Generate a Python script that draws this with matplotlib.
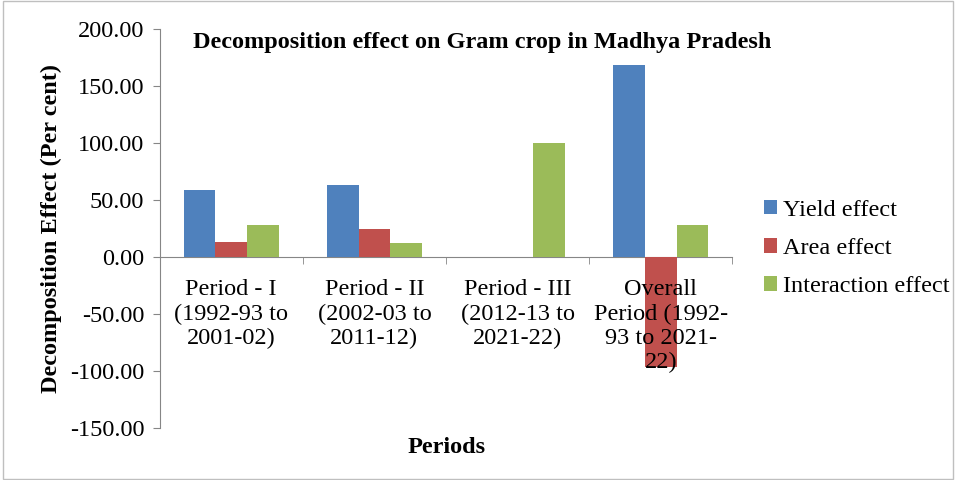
import matplotlib
matplotlib.use("Agg")
import matplotlib.pyplot as plt
import numpy as np

# data
periods = ["Period - I\n(1992-93 to\n2001-02)",
           "Period - II\n(2002-03 to\n2011-12)",
           "Period - III\n(2012-13 to\n2021-22)",
           "Overall\nPeriod (1992-\n93 to 2021-\n22)"]
yield_effect = [58.5, 63.0, 0.0, 168.0]
area_effect = [13.5, 24.5, 0.0, -96.0]
interaction_effect = [28.0, 12.0, 100.0, 28.0]
series_names = ["Yield effect", "Area effect", "Interaction effect"]
colors = ["#4F81BD", "#C0504D", "#9BBB59"]
yticks = [-150, -100, -50, 0, 50, 100, 150, 200]

plt.rcParams['font.family'] = ['Liberation Serif', 'DejaVu Serif']
FS = 17.5

fig = plt.figure(figsize=(9.56, 4.8), dpi=100)
ax = fig.add_axes([0.167, 0.108, 0.599, 0.832])
ax.set_axisbelow(False)

x = np.arange(len(periods))
w = 0.222
for i, (vals, name) in enumerate(zip([yield_effect, area_effect, interaction_effect], series_names)):
    ax.bar(x + (i - 1) * w, vals, w, color=colors[i], label=name,
           edgecolor='none', zorder=2)

ax.set_xlim(-0.5, len(periods) - 0.5)
ax.set_ylim(-150, 200)
ax.set_yticks(yticks)
ax.set_yticklabels([f"{v:.2f}" for v in yticks])

ax.set_xticks(x)
ax.set_xticklabels(periods, linespacing=1.24)
ax.set_xticks(np.arange(len(periods) + 1) - 0.5, minor=True)
ax.tick_params(axis='x', which='major', length=0, pad=16, labelsize=FS)
ax.tick_params(axis='x', which='minor', length=5, color='#868686', direction='out')
ax.tick_params(axis='y', length=5, color='#868686', direction='out', pad=6, labelsize=FS)

for s in ['top', 'right']:
    ax.spines[s].set_visible(False)
ax.spines['bottom'].set_position(('data', 0))
ax.spines['bottom'].set_color('#868686')
ax.spines['left'].set_color('#868686')
ax.spines['bottom'].set_zorder(1)

ax.set_ylabel("Decomposition Effect (Per cent)", fontsize=FS, fontweight='bold', labelpad=6)
fig.text(0.467, 0.068, "Periods", fontsize=FS, fontweight='bold', ha='center', va='center')
fig.text(0.504, 0.912, "Decomposition effect on Gram crop in Madhya Pradesh",
         fontsize=FS, fontweight='bold', ha='center', va='center')

ax.legend(loc='center left', bbox_to_anchor=(1.017, 0.45), frameon=False, fontsize=FS,
          handlelength=0.53, handleheight=0.53, handletextpad=0.25, labelspacing=0.7)

# light frame around the whole figure
fig.patches.append(plt.Rectangle((0.003, 0.003), 0.994, 0.994, transform=fig.transFigure,
                                 fill=False, edgecolor='#BFBFBF', linewidth=1))

fig.savefig("out.png", dpi=100)
